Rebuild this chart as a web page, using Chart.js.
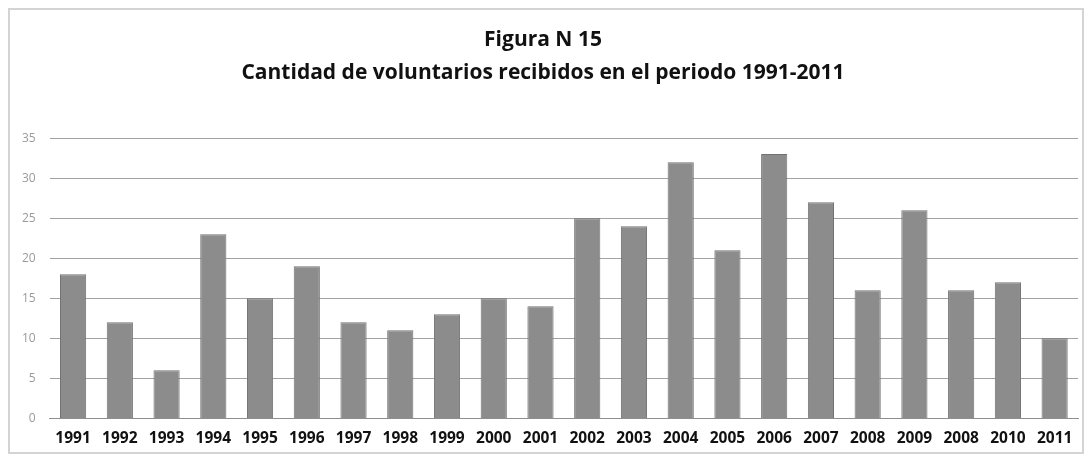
<!DOCTYPE html>
<html>
<head>
<meta charset="utf-8">
<script src="https://cdn.jsdelivr.net/npm/chart.js@4"></script>
<style>
  html, body { margin: 0; padding: 0; background: #ffffff; }
  #wrap { width: 1088px; height: 456px; position: relative; }
</style>
</head>
<body>
<div id="wrap"><canvas id="c" width="1088" height="456"></canvas></div>
<script>
const categories = ["1991","1992","1993","1994","1995","1996","1997","1998","1999","2000","2001","2002","2003","2004","2005","2006","2007","2008","2009","2008","2010","2011"];
const voluntarios = [18, 12, 6, 23, 15, 19, 12, 11, 13, 15, 14, 25, 24, 32, 21, 33, 27, 16, 26, 16, 17, 10];
const titleLines = ["Figura N 15", "Cantidad de voluntarios recibidos en el periodo 1991-2011"];
const yTicks = [0, 5, 10, 15, 20, 25, 30, 35];

const frame = {
  id: 'frame',
  beforeDraw(chart) {
    const ctx = chart.ctx;
    ctx.save();
    ctx.fillStyle = '#ffffff';
    ctx.fillRect(0, 0, chart.width, chart.height);
    ctx.strokeStyle = '#d4d4d4';
    ctx.lineWidth = 2;
    ctx.strokeRect(9, 9, chart.width - 14, chart.height - 12);
    ctx.restore();
  }
};

new Chart(document.getElementById('c'), {
  type: 'bar',
  data: {
    labels: categories,
    datasets: [{
      data: voluntarios,
      backgroundColor: '#8c8c8c',
      borderColor: '#727272',
      borderWidth: 1,
      barPercentage: 0.56,
      categoryPercentage: 1.0
    }]
  },
  options: {
    responsive: false,
    animation: false,
    devicePixelRatio: 1,
    layout: { padding: { top: 24, left: 8, right: 10, bottom: 5 } },
    plugins: {
      legend: { display: false },
      tooltip: { enabled: false },
      title: {
        display: true,
        text: titleLines,
        color: '#111111',
        font: { family: 'Open Sans', size: 21, weight: 'bold', lineHeight: 1.55 },
        padding: { top: 0, bottom: 49 }
      }
    },
    scales: {
      x: {
        grid: { display: false },
        border: { display: true, color: '#8f8f8f', width: 1 },
        ticks: {
          color: '#111111',
          font: { family: 'Open Sans', size: 15.5, weight: 'bold' },
          maxRotation: 0,
          autoSkip: false,
          padding: 3
        }
      },
      y: {
        min: 0,
        max: 35,
        afterBuildTicks(axis) { axis.ticks = yTicks.map(v => ({ value: v })); },
        grid: { color: '#a3a3a3', lineWidth: 1, drawTicks: false },
        border: { display: false },
        ticks: {
          color: '#9a9a9a',
          font: { family: 'Open Sans', size: 12 },
          padding: 14
        }
      }
    }
  },
  plugins: [frame]
});
</script>
</body>
</html>
